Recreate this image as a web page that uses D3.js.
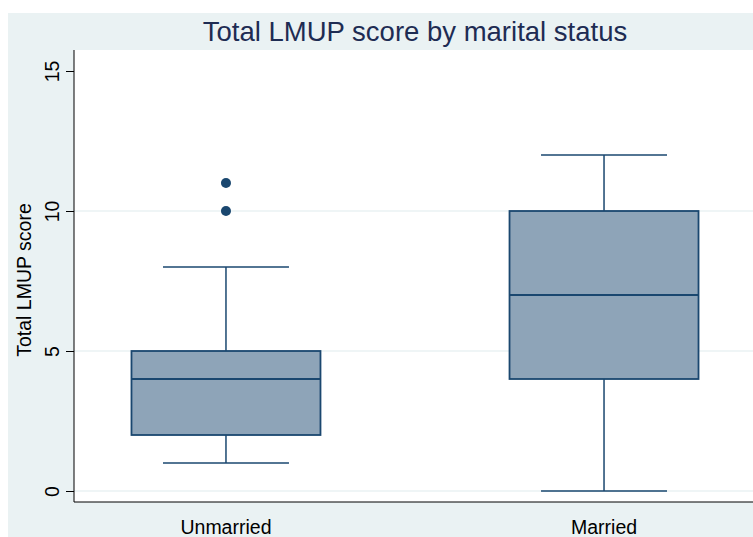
<!DOCTYPE html>
<html><head><meta charset="utf-8">
<script src="https://cdn.jsdelivr.net/npm/d3@7"></script>
<style>body{margin:0;background:#fff}svg{display:block}text{font-family:"Liberation Sans",Arial,sans-serif}</style>
</head><body>
<script>
const categories = ["Unmarried", "Married"];
const whiskerLow = [1, 0];
const q1 = [2, 4];
const median = [4, 7];
const q3 = [5, 10];
const whiskerHigh = [8, 12];
const outliers = [[10, 11], []];
const yTicks = [0, 5, 10, 15];
const title = "Total LMUP score by marital status";
const yTitle = "Total LMUP score";

const W = 753, H = 537;
const svg = d3.select("body").append("svg").attr("width", W).attr("height", H);
const navy = "#1a476f", fill = "#8ea4b8", bg = "#eaf2f3";

svg.append("rect").attr("x", 8).attr("y", 13).attr("width", W - 8).attr("height", H - 13).attr("fill", bg);
const pl = 74, pr = 756, pt = 50, pb = 502;
svg.append("rect").attr("x", pl).attr("y", pt).attr("width", pr - pl).attr("height", pb - pt).attr("fill", "#fff");

const y = d3.scaleLinear().domain([0, 15]).range([491, 71]);
const x = d3.scalePoint().domain(categories).range([pl, pr]).padding(0.402);
const boxW = 189, capW = 126;

// grid
svg.append("g").selectAll("line").data(yTicks.filter(d => d < 15)).join("line")
  .attr("x1", pl).attr("x2", pr).attr("y1", d => y(d)).attr("y2", d => y(d))
  .attr("stroke", bg).attr("stroke-width", 1.5);

// y axis
const yAxis = svg.append("g").attr("transform", `translate(${pl},0)`)
  .call(d3.axisLeft(y).tickValues(yTicks).tickSize(8).tickPadding(5));
yAxis.select(".domain").remove();
yAxis.selectAll(".tick line").attr("stroke", "#000");
yAxis.selectAll(".tick text").attr("font-size", 19.5).attr("fill", "#000")
  .attr("transform", function(d){ return `rotate(-90,-20,0)`; })
  .attr("x", -20).attr("dy", "0.32em").attr("text-anchor", "middle")
  .attr("dx", null).attr("y", -1);
svg.append("line").attr("x1", pl).attr("x2", pl).attr("y1", pt).attr("y2", pb).attr("stroke", "#000");

// x axis
svg.append("line").attr("x1", pl).attr("x2", pr).attr("y1", pb).attr("y2", pb).attr("stroke", "#000");
svg.append("g").selectAll("text").data(categories).join("text")
  .attr("x", d => x(d)).attr("y", 534).attr("text-anchor", "middle").attr("font-size", 19.5).text(d => d);

// boxes
const g = svg.append("g").selectAll("g").data(categories).join("g");
g.append("line").attr("x1", d => x(d)).attr("x2", d => x(d))
  .attr("y1", (d,i) => y(whiskerLow[i])).attr("y2", (d,i) => y(q1[i])).attr("stroke", navy).attr("stroke-width", 1.5);
g.append("line").attr("x1", d => x(d)).attr("x2", d => x(d))
  .attr("y1", (d,i) => y(q3[i])).attr("y2", (d,i) => y(whiskerHigh[i])).attr("stroke", navy).attr("stroke-width", 1.5);
g.append("line").attr("x1", d => x(d) - capW/2).attr("x2", d => x(d) + capW/2)
  .attr("y1", (d,i) => y(whiskerLow[i])).attr("y2", (d,i) => y(whiskerLow[i])).attr("stroke", navy).attr("stroke-width", 1.5);
g.append("line").attr("x1", d => x(d) - capW/2).attr("x2", d => x(d) + capW/2)
  .attr("y1", (d,i) => y(whiskerHigh[i])).attr("y2", (d,i) => y(whiskerHigh[i])).attr("stroke", navy).attr("stroke-width", 1.5);
g.append("rect").attr("x", d => x(d) - boxW/2).attr("width", boxW)
  .attr("y", (d,i) => y(q3[i])).attr("height", (d,i) => y(q1[i]) - y(q3[i]))
  .attr("fill", fill).attr("stroke", navy).attr("stroke-width", 1.8);
g.append("line").attr("x1", d => x(d) - boxW/2).attr("x2", d => x(d) + boxW/2)
  .attr("y1", (d,i) => y(median[i])).attr("y2", (d,i) => y(median[i])).attr("stroke", navy).attr("stroke-width", 1.8);
g.each(function(d, i) {
  d3.select(this).selectAll("circle").data(outliers[i]).join("circle")
    .attr("cx", x(d)).attr("cy", v => y(v)).attr("r", 5).attr("fill", navy);
});

// titles
svg.append("text").attr("x", (pl + pr) / 2).attr("y", 41).attr("text-anchor", "middle")
  .attr("font-size", 27.5).attr("fill", "#1e2c53").text(title);
svg.append("text").attr("transform", `translate(31,${(pt + pb) / 2 + 4}) rotate(-90)`)
  .attr("text-anchor", "middle").attr("font-size", 19.5).attr("fill", "#000").text(yTitle);
</script>
</body></html>
